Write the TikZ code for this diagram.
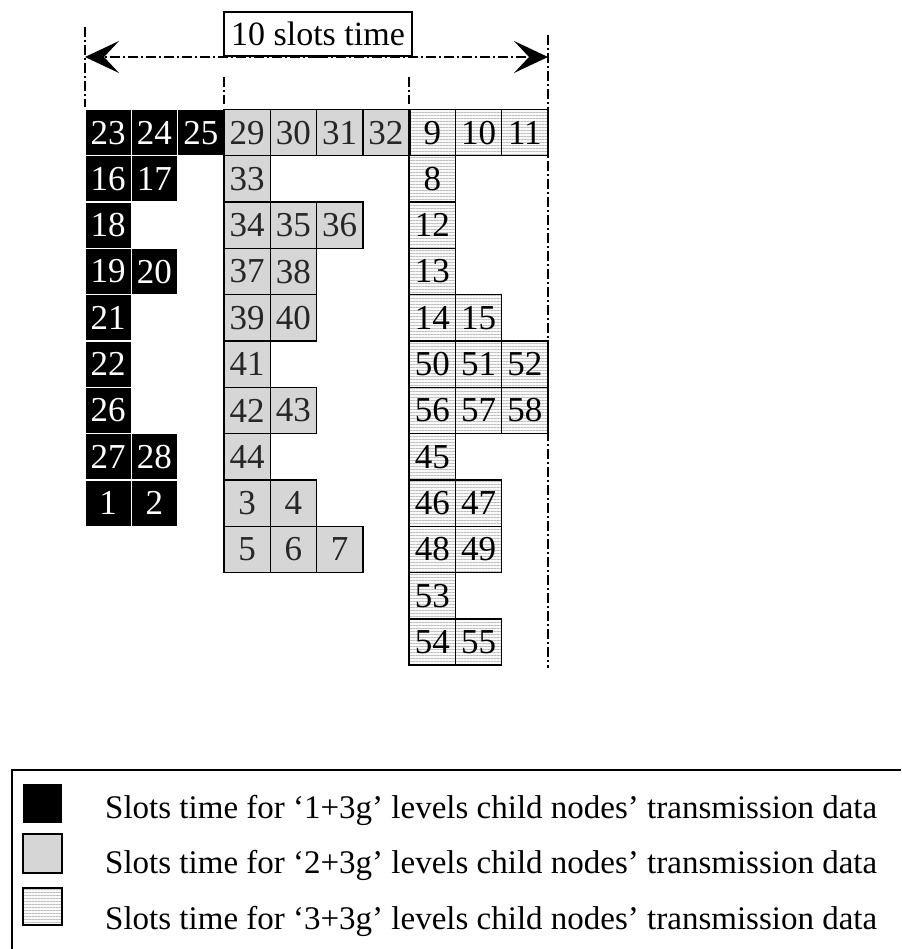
\documentclass[tikz,border=0pt]{standalone}
\usepackage{fontspec}
\setmainfont{Liberation Serif}
\usetikzlibrary{arrows.meta,patterns.meta}
\begin{document}
\begin{tikzpicture}[x=1pt,y=-1pt,
  cellbase/.style={minimum width=46.3pt,minimum height=46.3pt,inner sep=0pt,outer sep=0pt,font=\fontsize{35}{40}\selectfont},
  blk/.style={cellbase,fill=black,draw=white,line width=1.2pt,text=white},
  gry/.style={cellbase,fill=gray!32,draw=black,line width=1.4pt,text=black!85},
  hat/.style={cellbase,draw=black,line width=1.4pt,preaction={fill=gray!5},pattern={Lines[angle=0,distance=3pt,line width=0.5pt]},pattern color=gray!50},
  dashdot/.style={line width=1.6pt,dash pattern=on 10pt off 3pt on 2pt off 3pt},
  titlebox/.style={draw=black,line width=1.5pt,fill=white,minimum width=188pt,minimum height=44pt,inner sep=0pt,font=\fontsize{34}{40}\selectfont},
  legtext/.style={anchor=west,inner sep=0pt,font=\fontsize{33}{38}\selectfont},
  legsq/.style={minimum width=39pt,minimum height=39pt,inner sep=0pt,outer sep=0pt},
  tip/.style={-{Stealth[length=34pt,width=32pt,inset=15pt]}}
]
\useasboundingbox (0,0) rectangle (901,949);

% cells
\foreach \n/\c/\r in {23/1/1,24/2/1,25/3/1,16/1/2,17/2/2,18/1/3,19/1/4,20/2/4,21/1/5,22/1/6,26/1/7,27/1/8,28/2/8,1/1/9,2/2/9}
  \node[blk] (c\n) at ({85+46.3*(\c-0.5)},{109.5+46.3*(\r-0.5)}) {\n};
\foreach \n/\c/\r in {29/4/1,30/5/1,31/6/1,32/7/1,33/4/2,34/4/3,35/5/3,36/6/3,37/4/4,38/5/4,39/4/5,40/5/5,41/4/6,42/4/7,43/5/7,44/4/8,3/4/9,4/5/9,5/4/10,6/5/10,7/6/10}
  \node[gry] (c\n) at ({85+46.3*(\c-0.5)},{109.5+46.3*(\r-0.5)}) {\n};
\foreach \n/\c/\r in {9/8/1,10/9/1,11/10/1,8/8/2,12/8/3,13/8/4,14/8/5,15/9/5,50/8/6,51/9/6,52/10/6,56/8/7,57/9/7,58/10/7,45/8/8,46/8/9,47/9/9,48/8/10,49/9/10,53/8/11,54/8/12,55/9/12}
  \node[hat] (c\n) at ({85+46.3*(\c-0.5)},{109.5+46.3*(\r-0.5)}) {\n};
\draw[line width=3pt] (c9.north west) -- (c9.south west);

% dimension lines
\coordinate (lt) at (85,27);
\coordinate (lb) at (85,107);
\coordinate (m1t) at (224,77);
\coordinate (m1b) at (224,104);
\coordinate (m2t) at (409,77);
\coordinate (m2b) at (409,104);
\coordinate (rt) at (548,35);
\coordinate (rb) at (548,668);
\coordinate (al) at (85,57);
\coordinate (ar) at (548,57);
\coordinate (mid) at (318,57);
\draw[dashdot] (lt) -- (lb);
\draw[dashdot] (m1t) -- (m1b);
\draw[dashdot] (m2t) -- (m2b);
\draw[dashdot] (rt) -- (rb);
\draw[dashdot,tip] (mid) -- (al);
\draw[dashdot,tip] (mid) -- (ar);
\node[titlebox,anchor=south] (title) at (mid) {10 slots time};

% legend
\coordinate (lgbl) at (12,949);
\coordinate (lgtr) at (901,770);
\draw[line width=2pt] (lgbl) |- (lgtr);
\node[legsq,fill=black] (k1) at (42.5,803) {};
\node[legsq,fill=gray!32,draw=black,line width=1.5pt] (k2) at (42.5,853.5) {};
\node[legsq,minimum height=37pt,draw=black,line width=1.5pt,preaction={fill=gray!5},pattern={Lines[angle=0,distance=3pt,line width=0.5pt]},pattern color=gray!50] (k3) at (42.5,906.5) {};
\node[legtext] (t1) at (105,810) {Slots time for ‘1+3g’ levels child nodes’ transmission data};
\node[legtext] (t2) at (105,865) {Slots time for ‘2+3g’ levels child nodes’ transmission data};
\node[legtext] (t3) at (105,921) {Slots time for ‘3+3g’ levels child nodes’ transmission data};
\end{tikzpicture}
\end{document}
